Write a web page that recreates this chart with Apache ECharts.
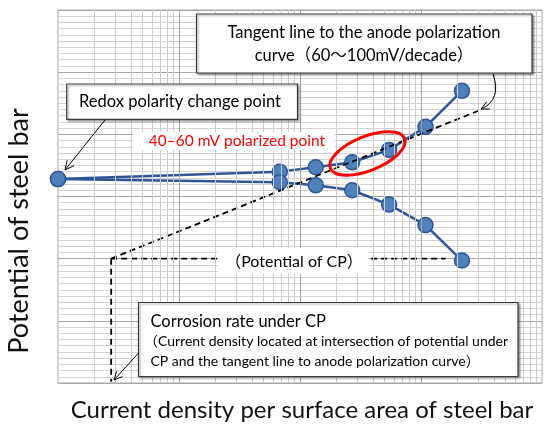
<!DOCTYPE html>
<html>
<head>
<meta charset="utf-8">
<script src="https://cdn.jsdelivr.net/npm/echarts@6/dist/echarts.min.js"></script>
<style>
  html, body { margin: 0; padding: 0; background: #fff; }
  #chart { width: 550px; height: 430px; }
</style>
</head>
<body>
<div id="chart"></div>
<script>
// polarization curve readings (x: current density, log scale / y: potential, arbitrary mV)
var upperX = [1, 68, 135, 270, 545, 1090, 2180];
var upperY = [328, 340, 347, 355, 375, 412, 470];
var lowerX = [1, 68, 135, 270, 545, 1090, 2180];
var lowerY = [328, 323, 318, 310, 287, 254, 197];

// tangent to the anode curve, CP potential line and drop to the x axis
var tangentX = [2.75, 3080];
var tangentY = [200, 439];
var cpX = [2.75, 1600];
var cpY = [200, 200];
var dropX = [2.75, 2.75];
var dropY = [200, 2];

var xRange = [1, 10000];
var yRange = [0, 600];
var yStep = 100;

var FONT = 'Lato, "Noto Sans CJK JP", sans-serif';

function pairs(xs, ys) {
  var out = [];
  for (var i = 0; i < xs.length; i++) out.push([xs[i], ys[i]]);
  return out;
}

// vertical grid lines of the log axis (1..9 in every decade)
var vLines = [];
for (var d = xRange[0]; d < xRange[1]; d *= 10) {
  for (var k = 1; k <= 9; k++) {
    if (k === 1 && d === xRange[0]) continue;
    vLines.push({
      xAxis: d * k,
      lineStyle: { color: k === 1 ? '#a6a6a6' : '#cccccc', width: 1, type: 'solid' }
    });
  }
}

function arrowHead(x1, y1, x2, y2, len) {
  var a = Math.atan2(y2 - y1, x2 - x1);
  var s = 0.45;
  return [
    [x2 - len * Math.cos(a - s), y2 - len * Math.sin(a - s)],
    [x2, y2],
    [x2 - len * Math.cos(a + s), y2 - len * Math.sin(a + s)]
  ];
}

var chart = echarts.init(document.getElementById('chart'));

var dashed = { color: '#000', width: 1.8, type: [6, 4] };
var boxStyle = { fill: '#fff', stroke: '#3a3a3a', lineWidth: 1.2, shadowBlur: 2, shadowOffsetX: 1.5, shadowOffsetY: 1.5, shadowColor: 'rgba(0,0,0,0.35)' };
var arrowStyle = { stroke: '#000', lineWidth: 1, fill: null };

chart.setOption({
  animation: false,
  backgroundColor: '#fff',
  grid: {
    left: 58, right: 8, top: 10, bottom: 47,
    show: true, borderColor: '#a6a6a6', borderWidth: 1
  },
  xAxis: {
    type: 'log',
    logBase: 10,
    min: xRange[0],
    max: xRange[1],
    axisLine: { show: false },
    axisTick: { show: false },
    axisLabel: { show: false },
    splitLine: { show: false }
  },
  yAxis: {
    type: 'value',
    min: yRange[0],
    max: yRange[1],
    interval: yStep,
    axisLine: { show: false },
    axisTick: { show: false },
    axisLabel: { show: false },
    splitLine: { show: true, lineStyle: { color: '#a6a6a6', width: 1 } },
    minorTick: { show: false, splitNumber: 10 },
    minorSplitLine: { show: true, lineStyle: { color: '#d4d4d4', width: 1 } }
  },
  series: [
    {
      type: 'line',
      z: 1,
      data: [],
      silent: true,
      markLine: {
        silent: true,
        symbol: ['none', 'none'],
        label: { show: false },
        animation: false,
        data: vLines
      }
    },
    {
      name: 'upper',
      type: 'line',
      z: 3,
      clip: false,
      data: pairs(upperX, upperY),
      symbol: 'circle',
      symbolSize: 15,
      lineStyle: { color: '#2f5597', width: 2.5 },
      itemStyle: { color: '#4f81bd', borderColor: '#2f5597', borderWidth: 1.5 }
    },
    {
      name: 'lower',
      type: 'line',
      z: 3,
      clip: false,
      data: pairs(lowerX, lowerY),
      symbol: 'circle',
      symbolSize: 15,
      lineStyle: { color: '#2f5597', width: 2.5 },
      itemStyle: { color: '#4f81bd', borderColor: '#2f5597', borderWidth: 1.5 }
    },
    {
      name: 'tangent',
      type: 'line',
      z: 4,
      data: pairs(tangentX, tangentY),
      symbol: 'none',
      lineStyle: dashed
    },
    {
      name: 'cp',
      type: 'line',
      z: 4,
      data: pairs(cpX, cpY),
      symbol: 'none',
      lineStyle: dashed
    },
    {
      name: 'drop',
      type: 'line',
      z: 4,
      data: pairs(dropX, dropY),
      symbol: 'none',
      lineStyle: dashed
    }
  ],
  graphic: [
    // tangent line box
    { type: 'rect', z: 10, shape: { x: 196.5, y: 14, width: 335.5, height: 59 }, style: boxStyle },
    { type: 'text', z: 11, x: 364, y: 33, style: { text: 'Tangent line to the anode polarization', font: '16.5px ' + FONT, fill: '#000', align: 'center', verticalAlign: 'middle' } },
    { type: 'text', z: 11, x: 364, y: 56, style: { text: 'curve（60～100mV/decade）', font: '16.5px ' + FONT, fill: '#000', align: 'center', verticalAlign: 'middle' } },
    { type: 'bezierCurve', z: 11, shape: { x1: 493, y1: 74, cpx1: 502, cpy1: 100, x2: 481, y2: 109 }, style: arrowStyle },
    { type: 'polyline', z: 11, shape: { points: arrowHead(498, 101, 481, 109, 9) }, style: arrowStyle },

    // redox box
    { type: 'rect', z: 10, shape: { x: 66.7, y: 84, width: 230.8, height: 35.3 }, style: boxStyle },
    { type: 'text', z: 11, x: 79, y: 102, style: { text: 'Redox polarity change point', font: '16.5px ' + FONT, fill: '#000', align: 'left', verticalAlign: 'middle' } },
    { type: 'line', z: 11, shape: { x1: 105, y1: 120, x2: 65, y2: 170 }, style: arrowStyle },
    { type: 'polyline', z: 11, shape: { points: arrowHead(105, 120, 65, 170, 10) }, style: arrowStyle },

    // red polarized point label and ellipse
    { type: 'rect', z: 10, shape: { x: 133, y: 132, width: 202, height: 18 }, style: { fill: '#fff' } },
    { type: 'text', z: 11, x: 237, y: 141, style: { text: '40–60 mV polarized point', font: '15.5px ' + FONT, fill: '#ff0000', align: 'center', verticalAlign: 'middle' } },
    { type: 'ellipse', z: 11, x: 367.5, y: 153.5, rotation: 0.38, shape: { cx: 0, cy: 0, rx: 40, ry: 17 }, style: { fill: null, stroke: '#ff0000', lineWidth: 3 } },

    // CP potential label
    { type: 'rect', z: 10, shape: { x: 217.5, y: 248, width: 151, height: 26 }, style: { fill: '#fff' } },
    { type: 'text', z: 11, x: 294, y: 261.5, style: { text: '（Potential of CP）', font: '16px ' + FONT, fill: '#000', align: 'center', verticalAlign: 'middle' } },

    // corrosion rate box
    { type: 'rect', z: 10, shape: { x: 138.5, y: 302.5, width: 379.5, height: 74 }, style: boxStyle },
    { type: 'text', z: 11, x: 150.5, y: 321.7, style: { text: 'Corrosion rate under CP', font: '16.5px ' + FONT, fill: '#000', align: 'left', verticalAlign: 'middle' } },
    { type: 'text', z: 11, x: 144, y: 341.7, style: { text: '（Current density located at intersection of potential under', font: '14px ' + FONT, fill: '#000', align: 'left', verticalAlign: 'middle' } },
    { type: 'text', z: 11, x: 150.5, y: 361, style: { text: 'CP and the tangent line to anode polarization curve）', font: '14px ' + FONT, fill: '#000', align: 'left', verticalAlign: 'middle' } },
    { type: 'line', z: 11, shape: { x1: 138.5, y1: 353, x2: 114, y2: 380 }, style: arrowStyle },
    { type: 'polyline', z: 11, shape: { points: arrowHead(138.5, 353, 114, 380, 9) }, style: arrowStyle },

    // axis titles
    { type: 'text', z: 11, x: 19, y: 231, rotation: Math.PI / 2, style: { text: 'Potential of steel bar', font: '27px ' + FONT, fill: '#111', align: 'center', verticalAlign: 'middle' } },
    { type: 'text', z: 11, x: 302, y: 410, style: { text: 'Current density per surface area of steel bar', font: '24px ' + FONT, fill: '#111', align: 'center', verticalAlign: 'middle' } }
  ]
});
</script>
</body>
</html>
